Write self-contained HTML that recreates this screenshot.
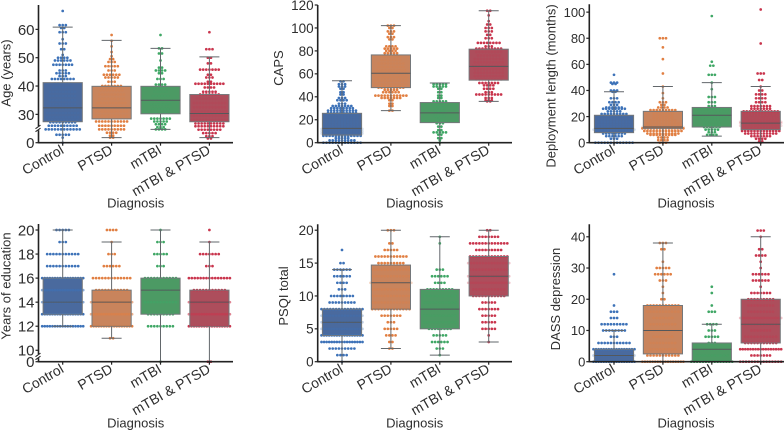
<!DOCTYPE html>
<html lang="en">
<head>
<meta charset="utf-8">
<title>Box and swarm plots by diagnosis</title>
<style>
html,body{margin:0;padding:0;background:#fff;width:784px;height:431px;overflow:hidden}
svg{display:block;filter:blur(0.3px)}
text{font-family:"Liberation Sans",sans-serif;fill:#2e2e2e}
</style>
</head>
<body>
<svg id="chart" width="784" height="431" viewBox="0 0 784 431" xmlns="http://www.w3.org/2000/svg"></svg>
<script>
const categories = ['Control', 'PTSD', 'mTBI', 'mTBI & PTSD'];
const xAxisTitle = 'Diagnosis';

const ageTicks = [0, 30, 40, 50, 60];
const ageBoxes = [[0, 27.4, 32.3, 41.2, 60.8], [21.8, 28.4, 32.3, 39.9, 56.1], [24.7, 30.2, 35, 39.9, 53.3], [21.8, 27.4, 30.3, 37, 50.3]];
const ageControl = [[66.5,1],[61.5,3],[60.5,2],[59,3],[56.5,1],[55,3],[53,2],[51,1],[50,4],[49,6],[47.5,7],[45.5,3],[44.5,5],[43.5,3],[42.5,8],[41,6],[39.5,7],[38,9],[36.5,9],[35,9],[33.5,9],[32,11],[30.5,11],[29,11],[28,10],[27.2,9],[26,10],[24.7,12],[22.8,5],[21.8,1],[0,1]];
const agePtsd = [[58,1],[56,1],[54,1],[52,1],[50.5,1],[49.5,2],[48.5,3],[47,5],[45.5,3],[44,6],[43,5],[41.5,3],[40,7],[38.5,8],[37,9],[35.5,9],[34,10],[32.5,11],[31,11],[29.5,11],[28.5,11],[27.5,11],[26,9],[24.7,9],[23.5,4],[22.5,2],[21.8,2]];
const ageMtbi = [[58,1],[53.3,2],[51.5,2],[49,1],[46.5,2],[45.5,4],[44.5,2],[42.5,3],[40.5,4],[39.5,5],[38,5],[36.5,6],[35,8],[33.5,7],[32,6],[30.5,6],[28.5,7],[27.5,5],[26.5,4],[25.5,3],[24.7,4]];
const ageMixed = [[59,1],[53,3],[50,2],[48,2],[45.8,7],[44,2],[43,3],[41.5,2],[40.8,10],[39.5,4],[38,5],[37,7],[35.5,9],[34,11],[32.5,11],[31,12],[29.5,13],[28,13],[26.8,10],[25.8,10],[24.6,8],[23.4,5],[22.3,3],[21.5,2]];

const capsTicks = [0, 20, 40, 60, 80, 100, 120];
const capsBoxes = [[0, 6.7, 12.5, 25.6, 54], [28, 48, 60.5, 76.5, 102], [0, 17.5, 26, 35, 52], [36, 54.5, 66.5, 81.5, 115]];
const capsControl = [[53.5,2],[51,3],[49,3],[47,2],[44,2],[42,2],[39,3],[37,4],[34,3],[32,7],[30,8],[28,10],[26,10],[24,11],[22,11],[20,11],[18,11],[16,13],[14,13],[12,15],[10,15],[8,15],[6,13],[4,5],[2,9],[0,13]];
const capsPtsd = [[102,3],[100,2],[97,3],[95,2],[92,3],[90,2],[84,4],[82,5],[80,4],[78,5],[75,7],[72,7],[69,9],[66,9],[63,10],[60,11],[57,11],[54,11],[51,11],[48,9],[46,5],[44,6],[41,11],[39,7],[37,2],[34,2],[32,2],[28,2]];
const capsMtbi = [[51,5],[49,5],[47,2],[44,2],[41,2],[39,2],[36,5],[34,4],[31,4],[28,4],[26,5],[23,4],[20,2],[17,3],[14,2],[11,2],[9,5],[7,2],[4,2],[2,1],[0,1]];
const capsMixed = [[115,2],[111,1],[106,1],[103,2],[100,3],[97,3],[94,2],[91,3],[87,8],[84,3],[82,9],[79,9],[76,8],[73,10],[70,10],[67,11],[64,10],[61,10],[58,10],[55,9],[52,7],[50,4],[47,4],[44,3],[42,9],[39,3],[37,3],[36,2]];

const deployTicks = [0, 20, 40, 60, 80, 100];
const deployBoxes = [[0, 7.7, 11, 21, 39], [0, 11, 12, 24, 43], [5, 12, 21, 27, 46], [0, 10, 15, 24, 43]];
const deployControl = [[52,1],[46,3],[45,2],[40,3],[39,2],[34,3],[31,4],[29,3],[27,6],[26,8],[24,5],[22,9],[20,11],[18,11],[16,11],[14,11],[12,13],[10,15],[9,13],[7,8],[5,6],[3,3],[0,13]];
const deployPtsd = [[80,3],[73,1],[64,1],[53,1],[43,1],[38,1],[34,1],[31,3],[29,2],[27,4],[25,9],[23,7],[21,7],[19,7],[17,9],[15,11],[13,13],[12,15],[11,15],[9,13],[7,11],[6,9],[4,4],[2,4],[0,3]];
const deployMtbi = [[97,1],[62,1],[59,2],[52,3],[46,1],[41,1],[35,3],[31,3],[28,3],[26,9],[24,11],[22,12],[20,11],[18,9],[16,6],[14,6],[12,6],[10,5],[8,3],[6,4]];
const deployMixed = [[102,1],[76,1],[53,3],[48,2],[43,1],[40,2],[37,4],[34,4],[31,4],[28,7],[26,7],[24,12],[22,12],[20,12],[18,13],[16,15],[15,17],[13,15],[11,13],[9,13],[7,11],[5,7],[3,4],[1,2],[0,1]];

const eduTicks = [0, 10, 12, 14, 16, 18, 20];
const eduBoxes = [[12, 13, 14, 16, 20], [11, 12, 14, 15, 19], [0, 13, 15, 16, 20], [0, 12, 14, 15, 19]];
const eduControl = [[20,5],[19,3],[18,11],[17,11],[16,17],[15,17],[14,17],[13,17],[12,17]];
const eduPtsd = [[20,4],[19,1],[18,3],[17,6],[16,13],[15,11],[14,17],[13,17],[12,17],[11,2]];
const eduMtbi = [[20,1],[19,3],[18,5],[17,3],[16,11],[15,7],[14,11],[13,9],[12,9],[0,1]];
const eduMixed = [[20,1],[19,1],[18,7],[17,3],[16,15],[15,11],[14,17],[13,17],[12,17],[0,2]];

const psqiTicks = [0, 5, 10, 15, 20];
const psqiBoxes = [[0, 4, 6, 8, 14], [2, 8, 12, 14.7, 20], [1, 5, 8, 11, 19], [3, 10, 13, 16, 20]];
const psqiControl = [[17,1],[15,2],[14,6],[13,6],[12,4],[11,3],[10,8],[9,9],[8,15],[7,15],[6,15],[5,17],[4,17],[3,17],[2,9],[1,4],[0,1]];
const psqiPtsd = [[20,3],[18,2],[17,5],[16,11],[15,9],[14,13],[13,13],[12,17],[11,13],[10,13],[9,13],[8,13],[7,7],[6,3],[5,5],[4,4],[3,2],[2,2]];
const psqiMtbi = [[19,1],[18,1],[14,3],[13,6],[12,4],[11,9],[10,11],[9,11],[8,11],[7,11],[6,11],[5,8],[4,5],[3,6],[2,3],[1,1]];
const psqiMixed = [[20,2],[19,7],[18,13],[17,9],[16,13],[15,15],[14,13],[13,17],[12,17],[11,11],[10,11],[9,5],[8,7],[7,5],[6,5],[5,5],[4,1],[3,1]];

const dassTicks = [0, 10, 20, 30, 40];
const dassBoxes = [[0, 0, 2, 4, 10], [0, 2.5, 10, 18, 38], [0, 0, 4, 6, 12], [0, 6, 12, 20, 40]];
const dassControl = [[28,1],[18,1],[16,3],[14,3],[12,9],[10,8],[8,3],[6,11],[4,17],[2,17],[0,17]];
const dassPtsd = [[38,3],[36,2],[32,1],[30,5],[28,6],[26,3],[24,1],[22,1],[20,2],[18,11],[16,11],[14,7],[12,9],[10,11],[8,7],[6,9],[4,9],[2,11],[0,17]];
const dassMtbi = [[24,1],[22,1],[18,1],[16,3],[12,4],[10,3],[8,5],[6,3],[4,7],[2,11],[0,15]];
const dassMixed = [[42,3],[40,1],[36,2],[34,4],[32,1],[30,1],[28,6],[26,6],[24,1],[22,7],[20,9],[18,9],[16,9],[14,17],[12,13],[10,7],[8,11],[6,11],[4,17],[2,7],[0,15]];

const pointColors = ['#3d72b8', '#e17f42', '#3fa765', '#c9354d'];
const boxColors = ['#4a6a9e', '#c9845c', '#4c9a64', '#ad4e5c'];

const panels = [
  {id:'age', yTitle:'Age (years)', ticks:ageTicks, boxes:ageBoxes, rows:[ageControl,agePtsd,ageMtbi,ageMixed], min:20, max:68.6, top:5, bottom:142.7, axisX:38.5, endX:233, firstX:62.7, titleX:6, titleY:73, xTitleX:135.7, xTitleY:207.5, font:15, inner:0.18, broken:true},
  {id:'caps', yTitle:'CAPS', ticks:capsTicks, boxes:capsBoxes, rows:[capsControl,capsPtsd,capsMtbi,capsMixed], min:0, max:120, top:5, bottom:142.7, axisX:317.7, endX:512, firstX:342, titleX:278.7, titleY:68, xTitleX:414.7, xTitleY:207.5, font:13.5, inner:0.18},
  {id:'deployment', yTitle:'Deployment length (months)', ticks:deployTicks, boxes:deployBoxes, rows:[deployControl,deployPtsd,deployMtbi,deployMixed], min:0, max:106, top:4.3, bottom:142.7, axisX:589.3, endX:784, firstX:614, titleX:551, titleY:86, xTitleX:686, xTitleY:207.5, font:13, inner:0.2},
  {id:'education', yTitle:'Years of education', ticks:eduTicks, boxes:eduBoxes, rows:[eduControl,eduPtsd,eduMtbi,eduMixed], min:9.05, max:20.5, top:224, bottom:361.7, axisX:38.5, endX:233, firstX:62.7, titleX:6, titleY:286, xTitleX:135.7, xTitleY:427.5, font:15, inner:0.6, broken:true},
  {id:'psqi', yTitle:'PSQI total', ticks:psqiTicks, boxes:psqiBoxes, rows:[psqiControl,psqiPtsd,psqiMtbi,psqiMixed], min:0, max:20.9, top:224.3, bottom:361.7, axisX:317.7, endX:512, firstX:342, titleX:283.7, titleY:296, xTitleX:414.7, xTitleY:427.5, font:13.5, inner:0.3},
  {id:'dass', yTitle:'DASS depression', ticks:dassTicks, boxes:dassBoxes, rows:[dassControl,dassPtsd,dassMtbi,dassMixed], min:0, max:44, top:224.3, bottom:361.7, axisX:589.3, endX:784, firstX:614, titleX:555.7, titleY:299, xTitleX:686, xTitleY:427.5, font:13, inner:0.3}
];

const svg = document.getElementById('chart');
const NS = 'http://www.w3.org/2000/svg';
const slug = s => s.toLowerCase().replace(/[^a-z0-9]+/g, '-');

function make(parent, tag, attrs) {
  const el = document.createElementNS(NS, tag);
  for (const k in attrs) el.setAttribute(k, attrs[k]);
  parent.appendChild(el);
  return el;
}
function line(parent, x1, y1, x2, y2, color, width) {
  return make(parent, 'line', {x1, y1, x2, y2, stroke: color, 'stroke-width': width});
}
function yScaleFor(p) {
  return v => {
    const c = Math.max(v, p.min);
    return p.bottom - (c - p.min) / (p.max - p.min) * (p.bottom - p.top);
  };
}
function xScaleFor(p) {
  return i => p.firstX + i * 48.9;
}

function drawGroup(g, p, i, x, y) {
  const stats = p.boxes[i];
  const low = stats[0], q1 = stats[1], med = stats[2], q3 = stats[3], high = stats[4];
  const cx = x(i);
  const group = make(g, 'g', {});
  
  

  const box = make(group, 'rect', {x: cx - 19.6, y: y(q3), width: 39.2, height: y(q1) - y(q3), fill: boxColors[i]});
  
  

  const rows = p.rows[i];
  rows.forEach(row => {
    const value = row[0], count = row[1];
    const inside = value > q1 && value < q3;
    const step = Math.min(3.1, count > 1 ? 41 / (count - 1) : 3.1);
    for (let k = 0; k < count; k++) {
      const dot = make(group, 'circle', {
        cx: cx + (k - (count - 1) / 2) * step,
        cy: y(value),
        r: 1.35,
        fill: pointColors[i],
        opacity: inside ? p.inner : 1
      });
      
      
    }
  });

  const wc = '#62676b';
  const whiskerHigh = line(group, cx, y(q3), cx, y(high), wc, 1);
  
  
  const whiskerLow = line(group, cx, y(q1), cx, y(low), wc, 1);
  
  
  const capHigh = line(group, cx - 10, y(high), cx + 10, y(high), wc, 1);
  
  
  const capLow = line(group, cx - 10, y(low), cx + 10, y(low), y(low) >= p.bottom - 0.5 ? '#a9adb0' : wc, 1);
  
  

  const outline = make(group, 'rect', {x: cx - 19.6, y: y(q3), width: 39.2, height: y(q1) - y(q3), fill: 'none', stroke: '#74777a', 'stroke-width': 1});
  
  
  const median = line(group, cx - 19.6, y(med), cx + 19.6, y(med), '#55585b', 1);
  
  
}

function drawPanel(p) {
  const y = yScaleFor(p);
  const x = xScaleFor(p);
  const g = make(svg, 'g', {});
  
  

  categories.forEach((c, i) => drawGroup(g, p, i, x, y));

  const yAxis = line(g, p.axisX, p.top, p.axisX, p.bottom + 0.7, '#222', 1.6);
  
  
  const xAxis = line(g, p.axisX, p.bottom, p.endX, p.bottom, '#222', 1.6);
  
  

  p.ticks.forEach(t => {
    const py = t === 0 ? p.bottom : y(t);
    const tick = line(g, p.axisX - 3, py, p.axisX, py, '#222', 1.2);
    
    
    const label = make(g, 'text', {x: p.axisX - 4, y: py + p.font * 0.36, 'text-anchor': 'end', 'font-size': p.font});
    label.textContent = t;
    
    
  });

  categories.forEach((c, i) => {
    const tick = line(g, x(i), p.bottom, x(i), p.bottom + 3, '#222', 1.2);
    
    
    const lx = x(i) + 2, ly = p.bottom + 10;
    const label = make(g, 'text', {
      x: lx, y: ly,
      'text-anchor': 'end', 'font-size': 14,
      transform: 'rotate(-30 ' + lx + ' ' + ly + ')'
    });
    label.textContent = c;
    
    
  });

  const yTitle = make(g, 'text', {
    x: p.titleX, y: p.titleY, 'text-anchor': 'middle', 'font-size': 13, 'dominant-baseline': 'central',
    transform: 'rotate(-90 ' + p.titleX + ' ' + p.titleY + ')'
  });
  yTitle.textContent = p.yTitle;
  
  

  const xTitle = make(g, 'text', {x: p.xTitleX, y: p.xTitleY, 'text-anchor': 'middle', 'font-size': 13});
  xTitle.textContent = xAxisTitle;
  
  

  if (p.broken) {
    const by = p.bottom - 14.5 + (p.id === 'education' ? 9 : 0);
    const gap = line(g, p.axisX, by - 2, p.axisX, by + 2, '#fff', 2.4);
    
    
    const m1 = line(g, p.axisX - 3, by + 0.5, p.axisX + 2, by - 3, '#222', 1);
    
    
    const m2 = line(g, p.axisX - 3, by + 3.5, p.axisX + 2, by, '#222', 1);
    
    
  }
}

panels.forEach(drawPanel);
</script>
</body>
</html>
